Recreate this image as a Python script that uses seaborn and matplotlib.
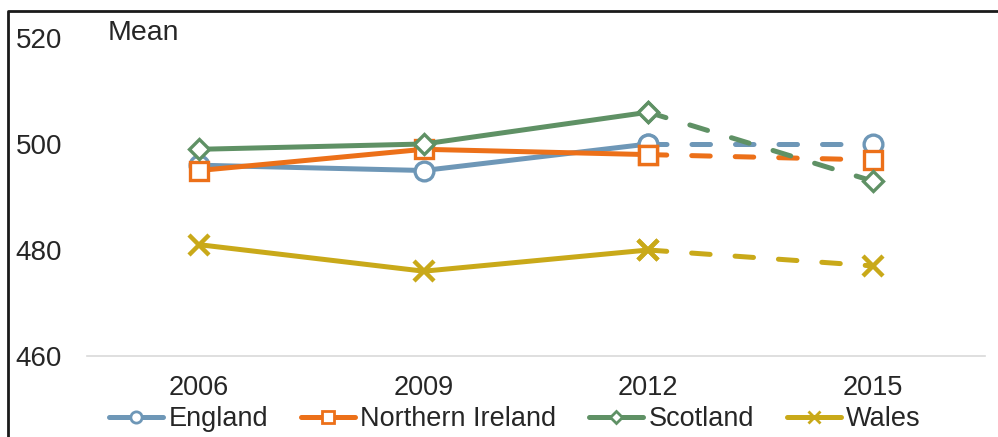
import numpy as np
import pandas as pd
import matplotlib.pyplot as plt
import seaborn as sns
from matplotlib.lines import Line2D

# data
years = ['2006', '2009', '2012', '2015']
countries = ['England', 'Northern Ireland', 'Scotland', 'Wales']
england = [496, 495, 500, 500]
n_ireland = [495, 499, 498, 497]
scotland = [499, 500, 506, 493]
wales = [481, 476, 480, 477]
yticks = [460, 480, 500, 520]

colors = ['#6E97B7', '#EC7019', '#5F9165', '#C9A919']
markers = ['o', 's', 'D', 'x']
msizes = [13.5, 13.5, 10.5, 15]
medges = [2.4, 2.4, 2.4, 3.2]

sns.set_style('white')
plt.rcParams['font.family'] = ['Liberation Sans', 'DejaVu Sans']
txt_col = '#262626'

df = pd.DataFrame({
    'pos': list(range(len(years))) * len(countries),
    'country': np.repeat(countries, len(years)),
    'score': england + n_ireland + scotland + wales,
})

fig = plt.figure(figsize=(9.98, 4.37), dpi=100)
ax = fig.add_axes([87/998, 1-356/437, (985-87)/998, (356-38)/437])

last = len(years) - 1
for c, col, mk, ms, mew in zip(countries, colors, markers, msizes, medges):
    sub = df[df['country'] == c]
    # solid part up to 2012, dashed to 2015
    sns.lineplot(data=sub[sub['pos'] <= last - 1], x='pos', y='score', ax=ax,
                 color=col, linewidth=3.6, marker=mk, markersize=ms, markeredgewidth=mew,
                 markerfacecolor='white', markeredgecolor=col,
                 solid_capstyle='round', solid_joinstyle='round')
    sns.lineplot(data=sub[sub['pos'] >= last - 1], x='pos', y='score', ax=ax,
                 color=col, linewidth=3.6, marker=mk, markersize=ms, markeredgewidth=mew,
                 markerfacecolor='white', markeredgecolor=col,
                 linestyle=(0, (3.7, 5.0)), dash_capstyle='round')

ax.set_xlim(-0.5, last + 0.5)
ax.set_ylim(yticks[0], yticks[-1])
ax.set_xticks(range(len(years)))
ax.set_xticklabels(years)
ax.set_yticks(yticks)
ax.set_xlabel('')
ax.set_ylabel('')
ax.tick_params(axis='x', length=0, pad=14, labelsize=19.5, colors=txt_col)
ax.tick_params(axis='y', length=0, pad=18, labelsize=20, colors=txt_col)
for s in ['top', 'right', 'left']:
    ax.spines[s].set_visible(False)
ax.spines['bottom'].set_color('#D9D9D9')
ax.spines['bottom'].set_linewidth(1.2)
ax.grid(False)

fig.text(108/998, 1-33/437, 'Mean', fontsize=20.5, color=txt_col, va='center', ha='left')

handles = [Line2D([0], [0], color=col, lw=3.6, marker=mk, markersize=ms*0.6,
                  markeredgewidth=2, markerfacecolor='white', markeredgecolor=col)
           for col, mk, ms in zip(colors, markers, msizes)]
fig.legend(handles, countries, loc='center', bbox_to_anchor=(515/998, 1-419/437),
           ncol=4, frameon=False, fontsize=19.5, handlelength=2.0, handletextpad=0.2,
           columnspacing=1.2, labelcolor=txt_col)

# partial border around the chart
fig.add_artist(Line2D([8/998, 8/998, 1], [0, 1-11/437, 1-11/437],
                      transform=fig.transFigure, color='#1a1a1a', lw=2))

fig.savefig('out.png', dpi=100)
